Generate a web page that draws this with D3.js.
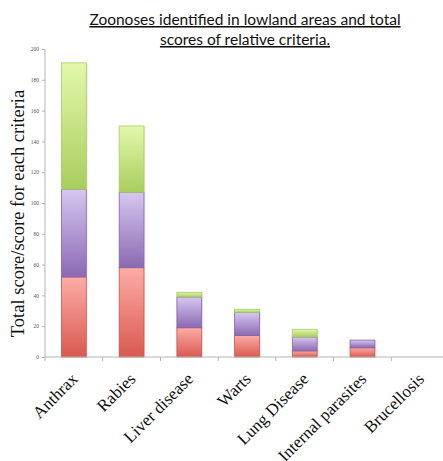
<!DOCTYPE html>
<html>
<head>
<meta charset="utf-8">
<script src="https://cdn.jsdelivr.net/npm/d3@7"></script>
<style>
  html, body { margin: 0; padding: 0; background: #fff; }
  svg { display: block; }
</style>
</head>
<body>
<svg id="chart" width="443" height="461"></svg>
<script>
// Zoonoses and their scores per criterion (stacked)
const categories = ["Anthrax", "Rabies", "Liver disease", "Warts", "Lung Disease", "Internal parasites", "Brucellosis"];
const criterion1 = [52, 58, 19, 14, 4, 6, 0];   // red segment
const criterion2 = [57, 49, 20, 15, 9, 5, 0];   // purple segment
const criterion3 = [82, 43, 3, 2, 5, 0, 0];     // green segment
const yTicks = [0, 20, 40, 60, 80, 100, 120, 140, 160, 180, 200];
const titleLines = ["Zoonoses identified in lowland areas and total", "scores of relative criteria."];
const yLabel = "Total score/score for each criteria";

const SERIF = "'Liberation Serif'";
const SANS = "'Lato'";

const svg = d3.select("#chart");
const margin = { left: 45, right: -6, top: 49, bottom: 104 };
const W = 443, H = 461;

const x = d3.scaleBand().domain(categories).range([margin.left, W - margin.right]).paddingInner(0.57).paddingOuter(0.285);
const y = d3.scaleLinear().domain([0, 200]).range([H - margin.bottom, margin.top]);

// Gradients for each criterion (light at the top, deeper at the bottom)
const defs = svg.append("defs");
const grads = [
  { id: "gRed", top: "#fdaca7", bottom: "#d95950", stroke: "#c9554d" },
  { id: "gPurple", top: "#d6c7f1", bottom: "#8a69b2", stroke: "#8464a8" },
  { id: "gGreen", top: "#e3f8ab", bottom: "#a9cd5d", stroke: "#a6cb60" }
];
grads.forEach(g => {
  const lg = defs.append("linearGradient").attr("id", g.id).attr("x1", 0).attr("y1", 0).attr("x2", 0).attr("y2", 1);
  lg.append("stop").attr("offset", "0%").attr("stop-color", g.top);
  lg.append("stop").attr("offset", "100%").attr("stop-color", g.bottom);
});

// Stack the series
const rows = categories.map((c, i) => ({ cat: c, s0: criterion1[i], s1: criterion2[i], s2: criterion3[i] }));
const stack = d3.stack().keys(["s0", "s1", "s2"]);
const series = stack(rows);

// Axes
const axisColor = "#b4b4b4";
const yAxis = svg.append("g").attr("transform", `translate(${margin.left},0)`)
  .call(d3.axisLeft(y).tickValues(yTicks).tickSize(3).tickPadding(3));
yAxis.attr("font-family", null).attr("font-size", null);
yAxis.select(".domain").attr("stroke", axisColor).attr("d", `M-0,${y(200)}V${y(0)}`);
yAxis.selectAll(".tick line").attr("stroke", axisColor);
yAxis.selectAll(".tick text")
  .style("font-family", SERIF).style("font-size", "5.5px").attr("fill", "#555");

// Bars
const barW = x.bandwidth();
const layer = svg.append("g");
series.forEach((s, k) => {
  const g = grads[k];
  // soft shadow to the right of each segment
  layer.selectAll(null).data(s.filter(d => d[1] > d[0])).enter().append("rect")
    .attr("x", d => x(d.data.cat) + 1.5)
    .attr("y", d => y(d[1]) + 0.5)
    .attr("width", barW)
    .attr("height", d => y(d[0]) - y(d[1]))
    .attr("fill", "#000").attr("opacity", 0.08);
  layer.selectAll(null).data(s.filter(d => d[1] > d[0])).enter().append("rect")
    .attr("x", d => x(d.data.cat))
    .attr("y", d => y(d[1]))
    .attr("width", barW)
    .attr("height", d => y(d[0]) - y(d[1]))
    .attr("fill", `url(#${g.id})`)
    .attr("stroke", g.stroke).attr("stroke-width", 0.8);
});

// X axis (drawn after bars so the baseline sits on top)
const xAxisG = svg.append("g").attr("transform", `translate(0,${y(0)})`);
xAxisG.append("line").attr("x1", margin.left).attr("x2", W).attr("y1", 0).attr("y2", 0).attr("stroke", axisColor).attr("stroke-width", 1.2);
const step = x.step();
const boundaries = d3.range(categories.length).map(i => margin.left + i * step);
xAxisG.selectAll(null).data(boundaries).enter().append("line")
  .attr("x1", d => d).attr("x2", d => d).attr("y1", 0).attr("y2", 4)
  .attr("stroke", axisColor);

// Category labels
svg.append("g").selectAll("text").data(categories).enter().append("text")
  .attr("transform", d => `translate(${x(d) + barW / 2 + 5},${y(0) + 23}) rotate(-45)`)
  .attr("text-anchor", "end")
  .style("font-family", SERIF).style("font-size", "17px")
  .attr("fill", "#111")
  .text(d => d);

// Y-axis title
svg.append("text")
  .attr("transform", `translate(24,213.5) rotate(-90)`)
  .attr("text-anchor", "middle")
  .style("font-family", SERIF).style("font-size", "18.5px")
  .attr("fill", "#111")
  .text(yLabel);

// Chart title, underlined
svg.append("g").selectAll("text").data(titleLines).enter().append("text")
  .attr("x", 245)
  .attr("y", (d, i) => 25 + i * 20)
  .attr("text-anchor", "middle")
  .style("font-family", SANS).style("font-size", "15.5px")
  .attr("text-decoration", "underline")
  .attr("fill", "#111")
  .text(d => d);
</script>
</body>
</html>
